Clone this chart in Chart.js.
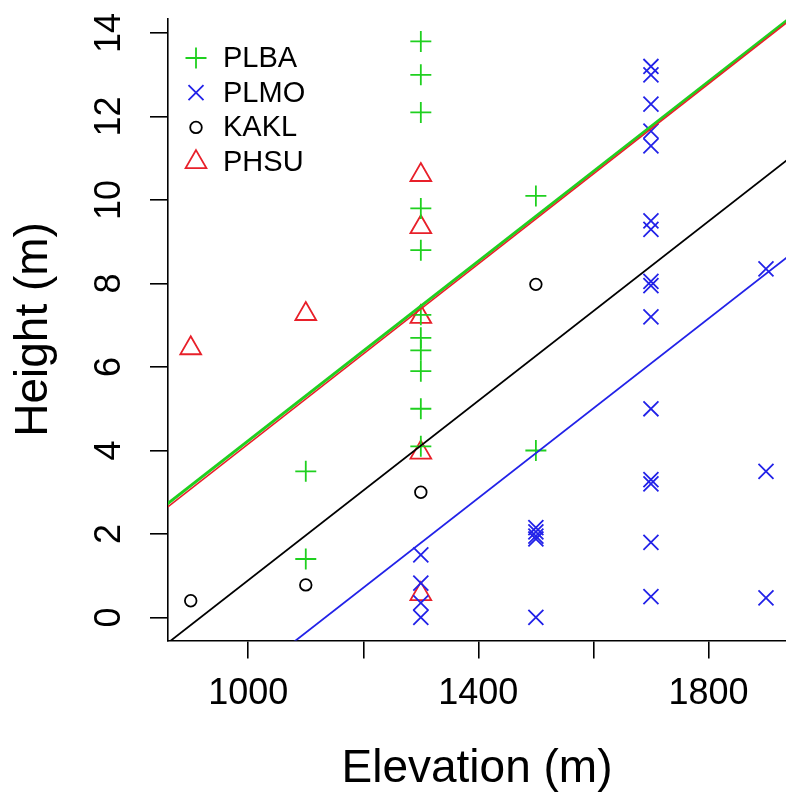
<!DOCTYPE html>
<html>
<head>
<meta charset="utf-8">
<title>Height vs elevation</title>
<script src="https://cdn.jsdelivr.net/npm/chart.js@4.4.1/dist/chart.umd.min.js"></script>
<style>
  html, body { margin: 0; padding: 0; background: #fff; overflow: hidden; }
  #wrap { width: 786px; height: 792px; }
</style>
</head>
<body>
<div id="wrap"><canvas id="chart" width="786" height="792"></canvas></div>
<script>
// ── Data ──────────────────────────────────────────────────────────────────────
const speciesNames = ["PLBA", "PLMO", "KAKL", "PHSU"];

const plbaElev   = [1100, 1100, 1300, 1300, 1300, 1300, 1300, 1300, 1300, 1300, 1300, 1300, 1300, 1500, 1500];
const plbaHeight = [3.5, 1.4, 13.8, 13.0, 12.1, 9.8, 8.8, 7.25, 6.7, 6.4, 5.9, 5.0, 4.1, 10.1, 4.0];

const plmoElev   = [1300, 1300, 1300, 1300, 1500, 1500, 1500, 1500, 1500,
                    1700, 1700, 1700, 1700, 1700, 1700, 1700, 1700, 1700, 1700, 1700, 1700, 1700, 1700, 1700,
                    1900, 1900, 1900];
const plmoHeight = [1.5, 0.82, 0.35, 0.0, 2.15, 2.05, 1.95, 1.88, 0.0,
                    13.2, 13.0, 12.3, 11.65, 11.3, 9.5, 9.3, 8.05, 7.95, 7.2, 5.0, 3.3, 3.2, 1.8, 0.5,
                    8.35, 3.5, 0.47];

const kaklElev   = [900, 1100, 1300, 1500];
const kaklHeight = [0.4, 0.78, 3.0, 7.98];

const phsuElev   = [900, 1100, 1300, 1300, 1300, 1300, 1300];
const phsuHeight = [6.45, 7.27, 10.6, 9.35, 7.2, 3.95, 0.56];

// fitted lines (common slope), given at two elevations
const fitElev = [850, 1950];
const fitPLBA = [2.62, 14.45];
const fitPLMO = [-3.05, 8.77];
const fitKAKL = [-0.72, 11.10];
const fitPHSU = [2.54, 14.40];

const xTicksLabelled = [1000, 1400, 1800];

// ── Style ─────────────────────────────────────────────────────────────────────
const FONT = "'Liberation Sans', Arial, Helvetica, sans-serif";
const GREEN = "#1fd01f";
const BLUE = "#2222e8";
const RED = "#e8202a";
const BLACK = "#000000";

const pts = (xs, ys) => xs.map((x, i) => ({ x, y: ys[i] }));

function markerSet(label, xs, ys, style, radius, color) {
  return {
    label, data: pts(xs, ys), pointStyle: style, pointRadius: radius, pointHoverRadius: radius,
    borderColor: color, backgroundColor: "rgba(0,0,0,0)", borderWidth: 1.8, order: 2,
  };
}

function fitSet(label, ys, color, width, order) {
  return {
    label, data: pts(fitElev, ys), showLine: true, pointRadius: 0, pointHoverRadius: 0,
    borderColor: color, borderWidth: width, backgroundColor: color, order,
  };
}

// ── Legend drawn inside the plot, R style ─────────────────────────────────────
const legendPlugin = {
  id: "rLegend",
  afterDraw(chart) {
    const ctx = chart.ctx;
    ctx.save();
    speciesNames.forEach((name, i) => {
      const ds = chart.data.datasets.find(d => d.label === name);
      const y = 58 + i * 34.7;
      ctx.strokeStyle = ds.borderColor;
      ctx.fillStyle = "rgba(0,0,0,0)";
      ctx.lineWidth = ds.borderWidth;
      Chart.helpers.drawPoint(ctx, { pointStyle: ds.pointStyle, radius: ds.pointRadius, borderWidth: ds.borderWidth, rotation: 0 }, 196, y);
      ctx.fillStyle = BLACK;
      ctx.font = `29px ${FONT}`;
      ctx.textAlign = "left";
      ctx.textBaseline = "middle";
      ctx.fillText(name, 223, y + 1);
    });
    ctx.restore();
  },
};

// ── Chart ─────────────────────────────────────────────────────────────────────
new Chart(document.getElementById("chart"), {
  type: "scatter",
  data: {
    datasets: [
      fitSet("PHSU fit", fitPHSU, RED, 1.7, 0),
      fitSet("PLBA fit", fitPLBA, GREEN, 3, 1),
      fitSet("KAKL fit", fitKAKL, BLACK, 1.8, 1),
      fitSet("PLMO fit", fitPLMO, BLUE, 1.8, 1),
      markerSet("PLBA", plbaElev, plbaHeight, "cross", 10.5, GREEN),
      markerSet("PLMO", plmoElev, plmoHeight, "crossRot", 10.6, BLUE),
      markerSet("KAKL", kaklElev, kaklHeight, "circle", 5.8, BLACK),
      markerSet("PHSU", phsuElev, phsuHeight, "triangle", 12, RED),
    ],
  },
  options: {
    responsive: false,
    animation: false,
    events: [],
    layout: { autoPadding: false, padding: { top: 18.4, right: 0, left: 0, bottom: 0 } },
    plugins: { legend: { display: false }, tooltip: { enabled: false } },
    scales: {
      x: {
        type: "linear",
        min: 860.5,
        max: 1934.8,
        afterFit(s) { s.height = 151.5; s.paddingLeft = 0; s.paddingRight = 0; },
        ticks: {
          stepSize: 200, includeBounds: false, autoSkip: false, maxRotation: 0,
          padding: 14, color: BLACK, font: { family: FONT, size: 36 },
          callback: v => (xTicksLabelled.includes(v) ? String(v) : ""),
        },
        grid: { drawOnChartArea: false, drawTicks: true, tickLength: 18, color: BLACK, lineWidth: 1.6 },
        border: { display: true, color: BLACK, width: 1.6 },
        title: { display: true, text: "Elevation (m)", color: BLACK, font: { family: FONT, size: 46, lineHeight: 1.0 }, padding: 0 },
      },
      y: {
        type: "linear",
        min: -0.552,
        max: 14.352,
        afterFit(s) { s.width = 168; s.paddingTop = 0; s.paddingBottom = 0; },
        ticks: {
          stepSize: 2, includeBounds: false, minRotation: 90, maxRotation: 90, crossAlign: "center",
          padding: 20, color: BLACK, font: { family: FONT, size: 36 },
        },
        grid: { drawOnChartArea: false, drawTicks: true, tickLength: 18, color: BLACK, lineWidth: 1.6 },
        border: { display: true, color: BLACK, width: 1.6 },
        title: { display: true, text: "Height (m)", color: BLACK, font: { family: FONT, size: 46, lineHeight: 1.0 }, padding: { top: 11, bottom: 0 } },
      },
    },
  },
  plugins: [legendPlugin],
});
</script>
</body>
</html>
